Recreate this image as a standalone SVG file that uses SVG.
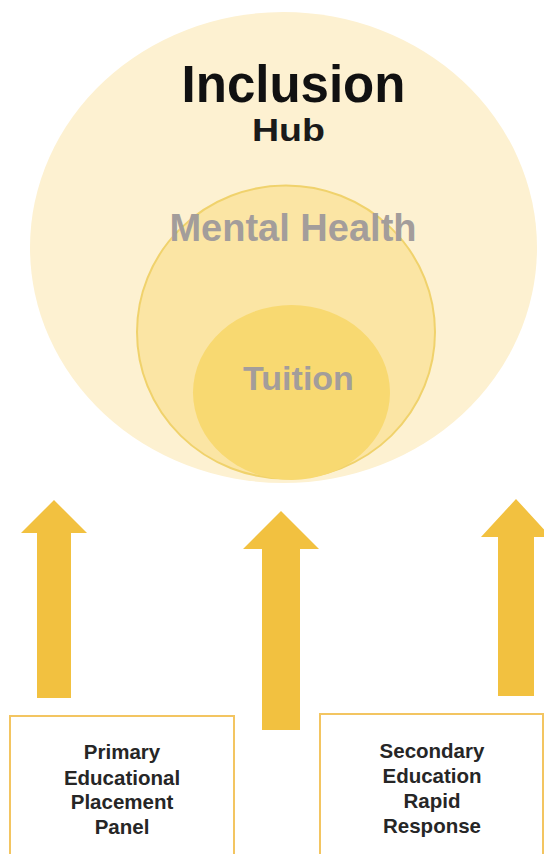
<svg xmlns="http://www.w3.org/2000/svg" width="544" height="854" viewBox="0 0 544 854">
<style>
.t{font-family:"Liberation Sans",Arial,sans-serif;font-weight:bold;text-anchor:middle}
.grey{fill:#A39D9B}
.box{fill:#FFFFFF;stroke:#F3C561;stroke-width:2}
.bt{font-family:"Liberation Sans",Arial,sans-serif;font-weight:bold;font-size:20.5px;fill:#262626;text-anchor:middle}
.arrow{fill:#F2C140}
</style>
<rect width="544" height="854" fill="#FFFFFF"/>
<g id="hub">
<ellipse cx="283.5" cy="247.5" rx="253.5" ry="235.5" fill="#FDF1D1"/>
<text class="t" x="293.5" y="101.5" font-size="51" fill="#111111">Inclusion</text>
<text class="t" x="288.5" y="140.5" font-size="31" fill="#1A1A1A" textLength="73" lengthAdjust="spacingAndGlyphs">Hub</text>
</g>
<g id="mental-health">
<ellipse cx="286" cy="332" rx="149" ry="146.5" fill="#FBE5A4" stroke="#F0D26C" stroke-width="2"/>
<text class="t grey" x="293" y="241" font-size="38">Mental Health</text>
</g>
<g id="tuition">
<ellipse cx="291.5" cy="392.5" rx="98.5" ry="87.5" fill="#F8D971"/>
<text class="t grey" x="298.5" y="390" font-size="34">Tuition</text>
</g>
<g id="connectors">
<polygon class="arrow" points="54,500 87,533 71,533 71,698 37,698 37,533 21,533"/>
<polygon class="arrow" points="281,511 319,549 300,549 300,730 262,730 262,549 243,549"/>
<polygon class="arrow" points="516,499 551,537 534,537 534,696 498,696 498,537 481,537"/>
</g>
<g id="primary-panel">
<rect class="box" x="10" y="716" width="224" height="150"/>
<text class="bt" x="122" y="759">Primary</text>
<text class="bt" x="122" y="784.5">Educational</text>
<text class="bt" x="122" y="809">Placement</text>
<text class="bt" x="122" y="834">Panel</text>
</g>
<g id="secondary-rapid-response">
<rect class="box" x="320" y="714" width="223" height="152"/>
<text class="bt" x="432" y="758">Secondary</text>
<text class="bt" x="432" y="782.5">Education</text>
<text class="bt" x="432" y="807.5">Rapid</text>
<text class="bt" x="432" y="832.5">Response</text>
</g>
</svg>
